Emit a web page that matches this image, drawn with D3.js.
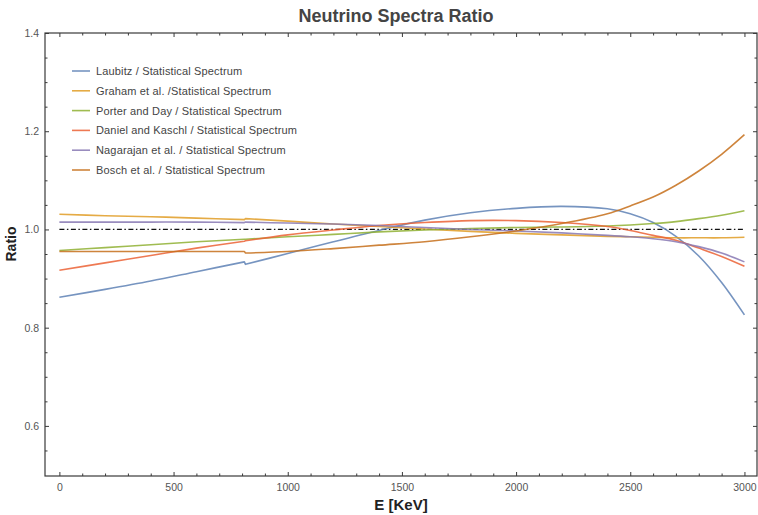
<!DOCTYPE html>
<html>
<head>
<meta charset="utf-8">
<script src="https://cdn.jsdelivr.net/npm/d3@7"></script>
<style>
  body { margin: 0; background: #fff; }
  text { font-family: "Liberation Sans", Arial, sans-serif; }
</style>
</head>
<body>
<div id="chart"></div>
<script>
// Data
//================================
var energies = [0, 200, 400, 600, 810, 815, 1000, 1200, 1400, 1600, 1800, 2000, 2200, 2400, 2500, 2600, 2700, 2800, 2900, 3000];
var stepIndex = 4; // small jump between energies[4] and energies[5]

var laubitz   = [0.862, 0.878, 0.895, 0.914, 0.934, 0.929, 0.951, 0.975, 0.998, 1.019, 1.034, 1.043, 1.047, 1.042, 1.032, 1.014, 0.986, 0.946, 0.892, 0.826];
var graham    = [1.031, 1.028, 1.026, 1.023, 1.020, 1.022, 1.017, 1.011, 1.006, 1.001, 0.996, 0.992, 0.989, 0.986, 0.985, 0.984, 0.983, 0.983, 0.983, 0.984];
var porter    = [0.957, 0.963, 0.969, 0.975, 0.980, 0.980, 0.985, 0.990, 0.995, 0.999, 1.002, 1.004, 1.005, 1.007, 1.009, 1.012, 1.016, 1.022, 1.029, 1.038];
var daniel    = [0.917, 0.932, 0.947, 0.962, 0.976, 0.977, 0.989, 0.999, 1.008, 1.014, 1.018, 1.018, 1.014, 1.006, 0.998, 0.988, 0.978, 0.962, 0.945, 0.925];
var nagarajan = [1.015, 1.015, 1.015, 1.015, 1.014, 1.015, 1.013, 1.011, 1.008, 1.004, 1.000, 0.997, 0.993, 0.988, 0.985, 0.981, 0.975, 0.965, 0.952, 0.934];
var bosch     = [0.955, 0.955, 0.955, 0.955, 0.955, 0.952, 0.955, 0.961, 0.968, 0.975, 0.985, 0.997, 1.012, 1.032, 1.048, 1.066, 1.090, 1.119, 1.153, 1.193];

var seriesNames = [
  "Laubitz / Statistical Spectrum",
  "Graham et al. /Statistical Spectrum",
  "Porter and Day / Statistical Spectrum",
  "Daniel and Kaschl / Statistical Spectrum",
  "Nagarajan et al. / Statistical Spectrum",
  "Bosch et al. / Statistical Spectrum"
];
var seriesValues = [laubitz, graham, porter, daniel, nagarajan, bosch];
var seriesColors = ["#5E81B5", "#E19C24", "#8FB032", "#EB6235", "#8778B3", "#C56E1A"];

var refRatio = 1.0;
var xMajorTicks = [0, 500, 1000, 1500, 2000, 2500, 3000];
var yMajorTicks = [0.6, 0.8, 1.0, 1.2, 1.4];

// Chart area
//================================
var svgWidth = 758;
var svgHeight = 515;

var svg = d3.select("#chart")
  .append("svg")
  .attr("width", svgWidth)
  .attr("height", svgHeight);

var xScale = d3.scaleLinear()
  .domain([-63, 3055])
  .range([45, 757]);

var yScale = d3.scaleLinear()
  .domain([0.498, 1.4])
  .range([476, 33]);

var x0 = xScale.range()[0], x1 = xScale.range()[1];
var y0 = yScale.range()[0], y1 = yScale.range()[1];

// minor ticks
var xMinorTicks = d3.range(0, 3001, 100).filter(d => xMajorTicks.indexOf(d) < 0);
var yMinorTicks = d3.range(0.55, 1.4, 0.05).map(d => +d.toFixed(2))
  .filter(d => yMajorTicks.indexOf(d) < 0);

var frameColor = "#3a3a3a";
var labelColor = "#555";

// Axes: bottom / left carry labels, top / right only ticks
var bottomAxis = d3.axisBottom(xScale).tickValues(xMajorTicks).tickSize(-4).tickPadding(8).tickFormat(d3.format("d"));
var bottomMinor = d3.axisBottom(xScale).tickValues(xMinorTicks).tickSize(-2.5).tickFormat("");
var topAxis = d3.axisTop(xScale).tickValues(xMajorTicks).tickSize(-4).tickFormat("");
var topMinor = d3.axisTop(xScale).tickValues(xMinorTicks).tickSize(-2.5).tickFormat("");
var leftAxis = d3.axisLeft(yScale).tickValues(yMajorTicks).tickSize(-4).tickPadding(6).tickFormat(d3.format(".1f"));
var leftMinor = d3.axisLeft(yScale).tickValues(yMinorTicks).tickSize(-2.5).tickFormat("");
var rightAxis = d3.axisRight(yScale).tickValues(yMajorTicks).tickSize(-4).tickFormat("");
var rightMinor = d3.axisRight(yScale).tickValues(yMinorTicks).tickSize(-2.5).tickFormat("");

function drawAxis(axis, tx, ty) {
  var g = svg.append("g")
    .attr("transform", `translate(${tx}, ${ty})`)
    .call(axis);
  g.select(".domain").remove();
  g.selectAll("line").attr("stroke", frameColor);
  g.selectAll("text")
    .attr("fill", labelColor)
    .style("font-size", "10.5px")
    .style("font-family", "'Liberation Sans', Arial, sans-serif");
  return g;
}

drawAxis(bottomAxis, 0, y0);
drawAxis(bottomMinor, 0, y0);
drawAxis(topAxis, 0, y1);
drawAxis(topMinor, 0, y1);
drawAxis(leftAxis, x0, 0);
drawAxis(leftMinor, x0, 0);
drawAxis(rightAxis, x1, 0);
drawAxis(rightMinor, x1, 0);

// frame
svg.append("rect")
  .attr("x", x0)
  .attr("y", y1)
  .attr("width", x1 - x0)
  .attr("height", y0 - y1)
  .attr("fill", "none")
  .attr("stroke", frameColor)
  .attr("stroke-width", 1.2);

// reference line at ratio 1
svg.append("line")
  .attr("x1", xScale(energies[0]))
  .attr("x2", xScale(energies[energies.length - 1]))
  .attr("y1", yScale(refRatio))
  .attr("y2", yScale(refRatio))
  .attr("stroke", "#111")
  .attr("stroke-width", 1.3)
  .attr("stroke-dasharray", "5,2.5,1.5,2.5");

// curves: smooth on each side of the jump, straight across it
var smooth = d3.line()
  .x(d => xScale(d[0]))
  .y(d => yScale(d[1]))
  .curve(d3.curveCatmullRom.alpha(0.5));

var straight = d3.line()
  .x(d => xScale(d[0]))
  .y(d => yScale(d[1]));

function seriesPath(values) {
  var pts = values.map((v, i) => [energies[i], v]);
  var before = pts.slice(0, stepIndex + 1);
  var jump = pts.slice(stepIndex, stepIndex + 2);
  var after = pts.slice(stepIndex + 1);
  return smooth(before) + straight(jump).replace("M", "L") + smooth(after).replace("M", "L");
}

svg.selectAll(".series")
  .data(seriesValues)
  .enter()
  .append("path")
  .attr("class", "series")
  .attr("d", d => seriesPath(d))
  .attr("fill", "none")
  .attr("stroke", (d, i) => seriesColors[i])
  .attr("stroke-opacity", 0.85)
  .attr("stroke-width", 1.6)
  .attr("stroke-linejoin", "round");

// legend
var legend = svg.append("g")
  .attr("transform", "translate(72, 71)");

var rows = legend.selectAll(".row")
  .data(seriesNames)
  .enter()
  .append("g")
  .attr("class", "row")
  .attr("transform", (d, i) => `translate(0, ${i * 19.8})`);

rows.append("line")
  .attr("x1", 0)
  .attr("x2", 18)
  .attr("y1", 0)
  .attr("y2", 0)
  .attr("stroke", (d, i) => seriesColors[i])
  .attr("stroke-opacity", 0.85)
  .attr("stroke-width", 1.6);

rows.append("text")
  .attr("x", 24)
  .attr("y", 4)
  .attr("fill", "#444")
  .style("font-size", "11px")
  .style("letter-spacing", "0.15px")
  .text(d => d);

// title and axis labels
svg.append("text")
  .attr("x", 396)
  .attr("y", 22)
  .attr("text-anchor", "middle")
  .attr("fill", "#444")
  .style("font-size", "18px")
  .style("font-weight", "bold")
  .text("Neutrino Spectra Ratio");

svg.append("text")
  .attr("x", 401)
  .attr("y", 510)
  .attr("text-anchor", "middle")
  .attr("fill", "#222")
  .style("font-size", "15px")
  .style("font-weight", "bold")
  .text("E [KeV]");

svg.append("text")
  .attr("transform", "translate(16, 244) rotate(-90)")
  .attr("text-anchor", "middle")
  .attr("fill", "#222")
  .style("font-size", "14px")
  .style("font-weight", "bold")
  .text("Ratio");
</script>
</body>
</html>
